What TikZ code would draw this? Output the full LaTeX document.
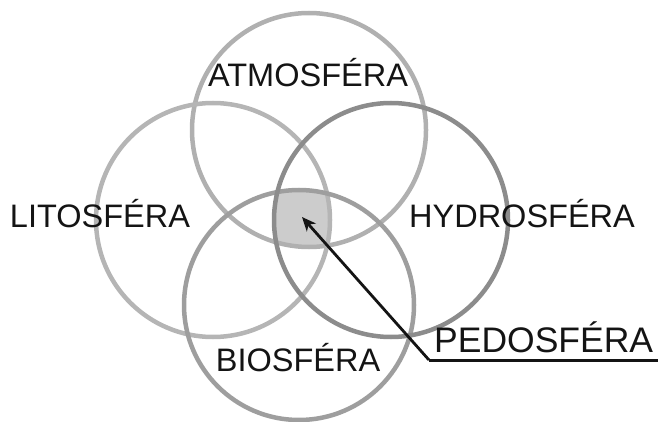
\documentclass[tikz,border=0pt]{standalone}
\usepackage{fontspec}
\setmainfont{Liberation Sans}
\usetikzlibrary{arrows.meta}
\definecolor{atmocol}{gray}{0.69}
\definecolor{litocol}{gray}{0.71}
\definecolor{hydrocol}{gray}{0.55}
\definecolor{biocol}{gray}{0.62}
\definecolor{pedocol}{gray}{0.80}
\definecolor{textcol}{gray}{0.08}
\begin{document}
\begin{tikzpicture}[x=1pt,y=1pt,
  sphere/.style={line width=4.5pt},
  label/.style={inner sep=0pt,anchor=base,text=textcol,font=\fontsize{32.5}{38}\selectfont}]
\useasboundingbox (0,0) rectangle (658,-422);
\begin{scope}
\clip (309,-130) circle (117);
\clip (213,-220) circle (117);
\clip (391,-220) circle (117);
\fill [pedocol] (299,-305) circle (115);
\end{scope}
\draw [sphere,atmocol] (309,-130) circle (117);
\draw [sphere,litocol] (213,-220) circle (117);
\draw [sphere,biocol] (299,-305) circle (115);
\draw [sphere,hydrocol] (391,-220) circle (117);
\node [label] (atmo) at (308,-87) {ATMOSFÉRA};
\node [label] (lito) at (100,-227) {LITOSFÉRA};
\node [label] (hydro) at (522,-227) {HYDROSFÉRA};
\node [label] (bio) at (298,-371) {BIOSFÉRA};
\node [label,anchor=base west,font=\fontsize{35.5}{40}\selectfont] (pedo) at (434,-352) {PEDOSFÉRA};
\coordinate (core) at (302,-217);
\coordinate (knee) at (429,-360);
\coordinate (lineend) at (658,-360);
\draw [line width=3pt,textcol] (knee) -- (lineend);
\draw [line width=2.8pt,textcol,-{Stealth[length=14pt,width=12pt,inset=4pt]}] (knee) -- (core);
\end{tikzpicture}
\end{document}
